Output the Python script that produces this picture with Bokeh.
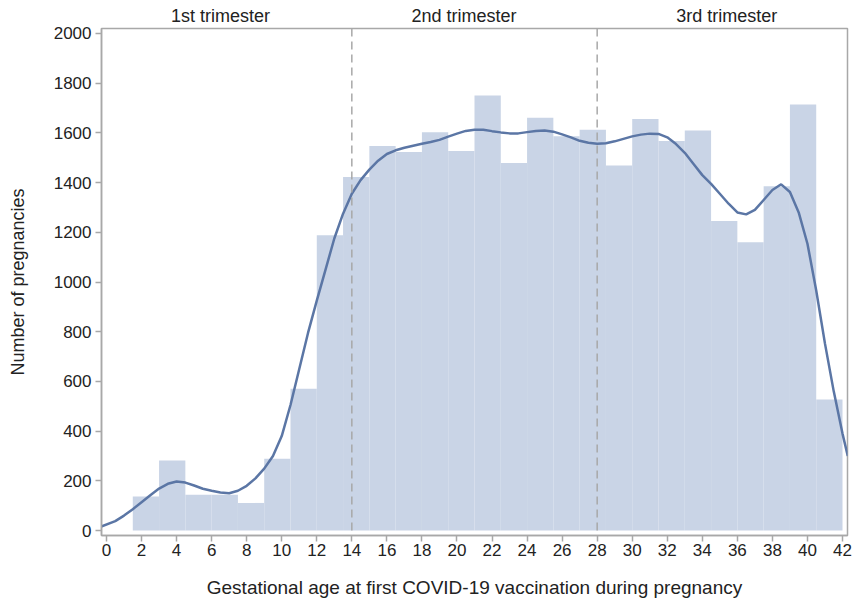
from bokeh.plotting import figure
from bokeh.models import Range1d, Span, LinearAxis, FixedTicker, ColumnDataSource
from bokeh.embed import file_html
from bokeh.resources import INLINE

# ---- data ----
bin_left = [1.5, 3.0, 4.5, 6.0, 7.5, 9.0, 10.5, 12.0, 13.5, 15.0, 16.5, 18.0, 19.5,
            21.0, 22.5, 24.0, 25.5, 27.0, 28.5, 30.0, 31.5, 33.0, 34.5, 36.0, 37.5, 39.0, 40.5]
bin_width = 1.5
counts = [137, 282, 144, 144, 111, 289, 570, 1188, 1422, 1547, 1523, 1603, 1527,
          1750, 1479, 1661, 1586, 1613, 1469, 1656, 1567, 1610, 1245, 1160, 1385, 1714, 527]

curve_x = [-0.3, 0.5, 1.0, 1.5, 2.0, 2.5, 3.0, 3.5, 4.0, 4.5, 5.0, 5.5, 6.0, 6.5, 7.0,
           7.5, 8.0, 8.5, 9.0, 9.5, 10.0, 10.5, 11.0, 11.5, 12.0, 12.5, 13.0, 13.5,
           14.0, 14.5, 15.0, 15.5, 16.0, 16.5, 17.0, 17.5, 18.0, 18.5, 19.0, 19.5,
           20.0, 20.5, 21.0, 21.5, 22.0, 22.5, 23.0, 23.5, 24.0, 24.5, 25.0, 25.5,
           26.0, 26.5, 27.0, 27.5, 28.0, 28.5, 29.0, 29.5, 30.0, 30.5, 31.0, 31.5,
           32.0, 32.5, 33.0, 33.5, 34.0, 34.5, 35.0, 35.5, 36.0, 36.5, 37.0, 37.5,
           38.0, 38.5, 39.0, 39.5, 40.0, 40.5, 41.0, 41.5, 42.0, 42.3]
curve_y = [16, 38, 60, 86, 114, 142, 169, 188, 197, 193, 181, 168, 160, 153, 150,
           160, 180, 210, 249, 300, 380, 505, 650, 795, 925, 1050, 1175, 1275,
           1355, 1410, 1452, 1488, 1515, 1530, 1540, 1548, 1556, 1563, 1572, 1585,
           1597, 1608, 1613, 1613, 1607, 1602, 1598, 1598, 1603, 1608, 1610, 1605,
           1594, 1582, 1568, 1560, 1556, 1558, 1566, 1576, 1586, 1593, 1597, 1596,
           1582, 1555, 1520, 1475, 1430, 1395, 1355, 1315, 1280, 1272, 1290, 1330,
           1370, 1393, 1362, 1280, 1154, 966, 752, 560, 390, 300]

tri_pos = [6.5, 20.4, 35.4]
tri_labels = ["1st trimester", "2nd trimester", "3rd trimester"]
boundaries = [14, 28]
x_ticks = list(range(0, 43, 2))
y_ticks = list(range(0, 2001, 200))

FONT = "Liberation Sans"
TXT = "#222222"
GRAY = "#a8a8a8"

p = figure(width=852, height=603, output_backend="svg", toolbar_location=None,
           x_range=Range1d(-0.285, 42.285), y_range=Range1d(-20, 2020),
           min_border_left=101, min_border_right=5, min_border_top=28, min_border_bottom=68)

src = ColumnDataSource(dict(left=bin_left,
                            right=[b + bin_width for b in bin_left],
                            top=counts))
p.quad(left="left", right="right", bottom=0, top="top", source=src,
       fill_color="#c9d4e6", line_color=None)

for b in boundaries:
    p.add_layout(Span(location=b, dimension="height", line_color=GRAY,
                      line_dash="8 5", line_width=1.5))

p.line(curve_x, curve_y, line_color="#5b76a5", line_width=2.5)

p.grid.visible = False
p.outline_line_color = GRAY
p.outline_line_width = 1.5

for ax in (p.xaxis[0], p.yaxis[0]):
    ax.axis_line_color = GRAY
    ax.axis_line_width = 1.5
    ax.major_tick_line_color = GRAY
    ax.major_tick_line_width = 1.5
    ax.major_tick_in = 0
    ax.major_tick_out = 6
    ax.minor_tick_line_color = None
    ax.major_label_text_font = FONT
    ax.major_label_text_font_size = "17px"
    ax.major_label_text_color = TXT
    ax.axis_label_text_font = FONT
    ax.axis_label_text_font_style = "normal"
    ax.axis_label_text_color = TXT

p.xaxis[0].axis_label_text_font_size = "19px"
p.yaxis[0].axis_label_text_font_size = "18px"
p.xaxis[0].ticker = FixedTicker(ticks=x_ticks)
p.yaxis[0].ticker = FixedTicker(ticks=y_ticks)
p.xaxis[0].axis_label = "Gestational age at first COVID-19 vaccination during pregnancy"
p.yaxis[0].axis_label = "Number of pregnancies"
p.xaxis[0].axis_label_standoff = 18
p.yaxis[0].axis_label_standoff = 23
p.xaxis[0].major_label_standoff = 2
p.yaxis[0].major_label_standoff = 4

top_ax = LinearAxis(ticker=FixedTicker(ticks=tri_pos),
                    major_label_overrides={t: l for t, l in zip(tri_pos, tri_labels)})
top_ax.axis_line_color = None
top_ax.major_tick_line_color = None
top_ax.major_tick_out = 0
top_ax.major_tick_in = 0
top_ax.minor_tick_line_color = None
top_ax.major_label_text_font = FONT
top_ax.major_label_text_font_size = "18px"
top_ax.major_label_text_color = TXT
top_ax.major_label_standoff = 3
p.add_layout(top_ax, "above")

open("out.html", "w").write(file_html(p, INLINE))
